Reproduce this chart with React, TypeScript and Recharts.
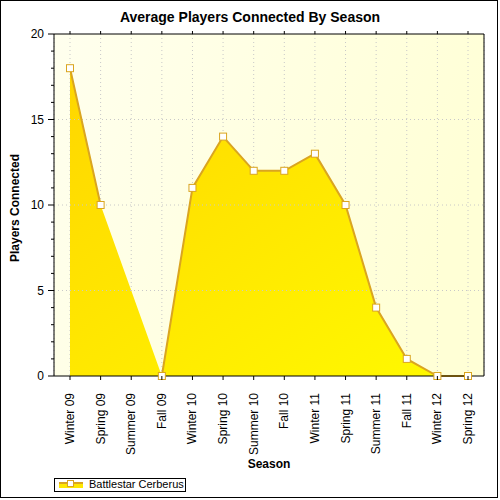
import React from "react";
import {
  ComposedChart, Area, Line, XAxis, YAxis, CartesianGrid, ReferenceLine,
} from "recharts";

const seasons = [
  "Winter 09", "Spring 09", "Summer 09", "Fall 09", "Winter 10", "Spring 10", "Summer 10",
  "Fall 10", "Winter 11", "Spring 11", "Summer 11", "Fall 11", "Winter 12", "Spring 12",
];
const players: (number | null)[] = [18, 10, null, 0, 11, 14, 12, 12, 13, 10, 4, 1, 0, 0];
const yTicks = [0, 1, 2, 3, 4, 5, 6, 7, 8, 9, 10, 11, 12, 13, 14, 15, 16, 17, 18, 19, 20];
const gridValues = [5, 10, 15];
const seriesName = "Battlestar Cerberus";

const data = seasons.map((season, i) => ({ season, players: players[i] }));

const font = "'Liberation Sans', Arial, sans-serif";
const lineColor = "#DAA520";

const LeftTick = (props: any) => {
  const { x, y, payload } = props;
  const major = payload.value % 5 === 0;
  return (
    <g>
      <line x1={x - (major ? 6 : 3)} x2={x} y1={y} y2={y} stroke="#000" />
      {major && (
        <text x={x - 10} y={y} dy={4} textAnchor="end" fontSize={12} fontFamily={font} fill="#000">
          {payload.value}
        </text>
      )}
    </g>
  );
};

const RightTick = (props: any) => {
  const { x, y } = props;
  return <line x1={x} x2={x + 3} y1={y} y2={y} stroke="#000" />;
};

const BottomTick = (props: any) => {
  const { x, y, payload } = props;
  return (
    <g transform={`translate(${x},${y})`}>
      <line x1={0} x2={0} y1={0} y2={4} stroke="#000" />
      <text transform="translate(0,17) rotate(-90)" dy={4} textAnchor="end" fontSize={12} fontFamily={font} fill="#000">
        {payload.value}
      </text>
    </g>
  );
};

const TopTick = (props: any) => {
  const { x, y } = props;
  return <line x1={x} x2={x} y1={y} y2={y - 3} stroke="#000" />;
};

const SquareDot = (props: any) => {
  const { cx, cy } = props;
  if (cx == null || cy == null || props.value == null) return <g />;
  return <rect x={cx - 3.5} y={cy - 3.5} width={7} height={7} fill="#fff" stroke={lineColor} strokeWidth={1} />;
};

export default function App() {
  return (
    <div style={{ position: "absolute", left: 0, top: 0, width: 500, height: 500, background: "#fff", fontFamily: font }}>
      <div style={{ position: "absolute", left: 0, top: 0, width: 496, height: 496, border: "1px solid #000" }} />
      <div style={{ position: "absolute", left: 0, top: 9, width: 500, textAlign: "center", fontSize: 14, fontWeight: "bold" }}>
        Average Players Connected By Season
      </div>
      <ComposedChart
        width={500}
        height={500}
        data={data}
        margin={{ top: 33, right: 15, bottom: 123, left: 53 }}
        style={{ position: "absolute", left: 0, top: 0 }}
      >
        <defs>
          <linearGradient id="bgGrad" x1="0" y1="0" x2="1" y2="0.3">
            <stop offset="0%" stopColor="#FFFFEE" />
            <stop offset="100%" stopColor="#FFFFD6" />
          </linearGradient>
          <linearGradient id="areaGrad" x1="0" y1="0" x2="1" y2="1">
            <stop offset="0%" stopColor="#FFD600" />
            <stop offset="100%" stopColor="#FFFA00" />
          </linearGradient>
        </defs>
        <CartesianGrid horizontal={false} stroke="#C8C8C8" strokeDasharray="1 3" fill="url(#bgGrad)" />
        {gridValues.map((v) => (
          <ReferenceLine key={v} y={v} stroke="#C8C8C8" strokeDasharray="1 3" />
        ))}
        <Area
          type="linear"
          dataKey="players"
          connectNulls
          stroke="none"
          fill="url(#areaGrad)"
          fillOpacity={1}
          dot={false}
          activeDot={false}
          isAnimationActive={false}
        />
        <Line
          type="linear"
          dataKey="players"
          name={seriesName}
          stroke={lineColor}
          strokeWidth={2}
          dot={<SquareDot />}
          activeDot={false}
          isAnimationActive={false}
        />
        <XAxis
          dataKey="season"
          height={1}
          padding={{ left: 16, right: 16 }}
          interval={0}
          tickSize={0}
          tickMargin={0}
          axisLine={{ stroke: "#000" }}
          tick={<BottomTick />}
        />
        <XAxis
          xAxisId="top"
          orientation="top"
          dataKey="season"
          height={1}
          padding={{ left: 16, right: 16 }}
          interval={0}
          tickSize={0}
          tickMargin={0}
          axisLine={{ stroke: "#000" }}
          tick={<TopTick />}
        />
        <YAxis
          width={1}
          domain={[0, 20]}
          ticks={yTicks}
          interval={0}
          tickSize={0}
          tickMargin={0}
          axisLine={{ stroke: "#000" }}
          tick={<LeftTick />}
        />
        <YAxis
          yAxisId="right"
          orientation="right"
          width={1}
          domain={[0, 20]}
          ticks={yTicks}
          interval={0}
          tickSize={0}
          tickMargin={0}
          axisLine={{ stroke: "#000" }}
          tick={<RightTick />}
        />
      </ComposedChart>
      <div style={{ position: "absolute", left: 0, top: 3, width: 30, height: 410, display: "flex", alignItems: "center", justifyContent: "center" }}>
        <div style={{ transform: "rotate(-90deg)", whiteSpace: "nowrap", fontSize: 12, fontWeight: "bold" }}>
          Players Connected
        </div>
      </div>
      <div style={{ position: "absolute", left: 54, top: 457, width: 430, textAlign: "center", fontSize: 12, fontWeight: "bold" }}>
        Season
      </div>
      <div style={{ position: "absolute", left: 54, top: 478, width: 130, height: 12, border: "1px solid #000", background: "#fff" }}>
        <svg width={26} height={12} style={{ position: "absolute", left: 3, top: 0 }}>
          <rect x={1} y={3} width={24} height={6} fill="#FFE800" />
          <line x1={1} x2={25} y1={4} y2={4} stroke={lineColor} strokeWidth={2} />
          <rect x={9.5} y={1.5} width={6} height={6} fill="#fff" stroke={lineColor} />
        </svg>
        <div style={{ position: "absolute", left: 34, top: -1, fontSize: 11, whiteSpace: "nowrap" }}>{seriesName}</div>
      </div>
    </div>
  );
}
